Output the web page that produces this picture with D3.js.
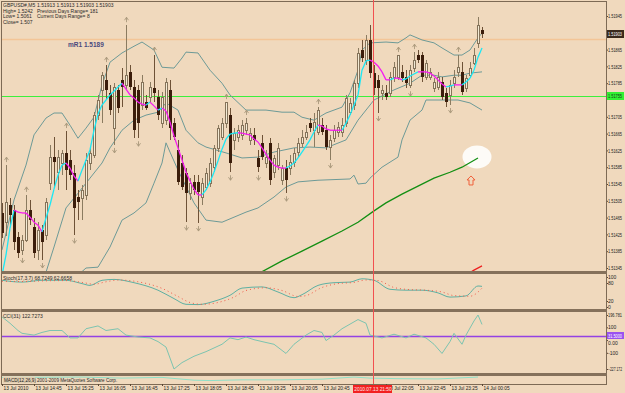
<!DOCTYPE html>
<html>
<head>
<meta charset="utf-8">
<script src="https://cdn.jsdelivr.net/npm/d3@7"></script>
<style>
  body { margin: 0; background: #f0d9bd; }
  svg { display: block; }
  text { font-family: "Liberation Sans", Arial, sans-serif; }
</style>
</head>
<body>
<div id="chart"></div>
<script>
// ---- price bars, GBPUSD M5, 13 Jul 2010 14:05 -> 14 Jul 00:05 ----
const opens = [1.51476,1.51454,1.51495,1.51483,1.51419,1.51388,1.51412,1.51483,1.51443,1.51388,
  1.51435,1.51423,1.51547,1.51609,1.51573,1.51595,1.51619,1.51602,1.51571,1.51514,
  1.51512,1.51519,1.51595,1.51614,1.51709,1.51769,1.51793,1.51762,1.51678,1.51769,
  1.51793,1.51781,1.51812,1.51776,1.51769,1.51733,1.51740,1.51752,1.51773,1.51752,
  1.51690,1.51697,1.51769,1.51690,1.51626,1.51595,1.51571,1.51523,1.51550,1.51550,
  1.51514,1.51538,1.51547,1.51585,1.51631,1.51657,1.51690,1.51709,1.51650,1.51657,
  1.51662,1.51673,1.51650,1.51662,1.51607,1.51643,1.51595,1.51643,1.51573,1.51590,
  1.51554,1.51583,1.51583,1.51597,1.51621,1.51643,1.51657,1.51690,1.51673,1.51669,
  1.51685,1.51673,1.51633,1.51654,1.51669,1.51669,1.51690,1.51716,1.51733,1.51785,
  1.51864,1.51840,1.51888,1.51809,1.51793,1.51762,1.51762,1.51762,1.51800,1.51800,
  1.51812,1.51800,1.51781,1.51821,1.51852,1.51852,1.51800,1.51800,1.51773,1.51776,
  1.51788,1.51762,1.51757,1.51785,1.51812,1.51812,1.51773,1.51804,1.51833,1.51881,
  1.51912];
const highs = [1.51500,1.51590,1.51512,1.51495,1.51431,1.51423,1.51519,1.51507,1.51464,1.51454,
  1.51447,1.51512,1.51638,1.51657,1.51626,1.51626,1.51671,1.51626,1.51590,1.51531,
  1.51543,1.51619,1.51631,1.51716,1.51757,1.51812,1.51828,1.51781,1.51785,1.51781,
  1.51821,1.51923,1.51828,1.51793,1.51781,1.51804,1.51757,1.51788,1.51852,1.51769,
  1.51764,1.51797,1.51793,1.51702,1.51650,1.51614,1.51583,1.51559,1.51566,1.51566,
  1.51559,1.51583,1.51607,1.51638,1.51685,1.51702,1.51740,1.51726,1.51678,1.51685,
  1.51697,1.51702,1.51678,1.51678,1.51626,1.51662,1.51626,1.51654,1.51614,1.51643,
  1.51590,1.51602,1.51614,1.51631,1.51654,1.51673,1.51685,1.51702,1.51714,1.51728,
  1.51702,1.51685,1.51662,1.51685,1.51693,1.51702,1.51757,1.51750,1.51793,1.51869,
  1.51888,1.51900,1.51923,1.51828,1.51804,1.51781,1.51781,1.51812,1.51835,1.51852,
  1.51828,1.51816,1.51828,1.51859,1.51864,1.51859,1.51840,1.51821,1.51797,1.51812,
  1.51800,1.51773,1.51793,1.51816,1.51852,1.51835,1.51804,1.51835,1.51869,1.51943,
  1.51919];
const lows = [1.51416,1.51421,1.51447,1.51388,1.51369,1.51376,1.51407,1.51447,1.51369,1.51364,
  1.51364,1.51412,1.51531,1.51538,1.51531,1.51566,1.51531,1.51554,1.51423,1.51459,
  1.51459,1.51507,1.51578,1.51607,1.51697,1.51690,1.51745,1.51709,1.51638,1.51714,
  1.51728,1.51769,1.51769,1.51654,1.51654,1.51721,1.51721,1.51740,1.51740,1.51697,
  1.51678,1.51685,1.51650,1.51650,1.51543,1.51531,1.51454,1.51507,1.51519,1.51452,
  1.51495,1.51531,1.51538,1.51573,1.51621,1.51650,1.51678,1.51573,1.51626,1.51645,
  1.51650,1.51662,1.51638,1.51638,1.51573,1.51602,1.51583,1.51543,1.51559,1.51578,
  1.51543,1.51523,1.51566,1.51585,1.51609,1.51633,1.51650,1.51669,1.51633,1.51662,
  1.51662,1.51626,1.51602,1.51645,1.51657,1.51657,1.51681,1.51709,1.51721,1.51773,
  1.51835,1.51828,1.51797,1.51757,1.51714,1.51745,1.51745,1.51752,1.51788,1.51793,
  1.51788,1.51773,1.51773,1.51812,1.51833,1.51788,1.51793,1.51793,1.51764,1.51769,
  1.51745,1.51728,1.51733,1.51773,1.51800,1.51757,1.51764,1.51797,1.51828,1.51869,
  1.51893];
const closes = [1.51428,1.51502,1.51471,1.51407,1.51381,1.51412,1.51483,1.51459,1.51381,1.51435,
  1.51407,1.51502,1.51609,1.51597,1.51609,1.51619,1.51578,1.51566,1.51488,1.51502,
  1.51531,1.51602,1.51619,1.51709,1.51745,1.51804,1.51769,1.51721,1.51776,1.51726,
  1.51776,1.51804,1.51776,1.51673,1.51690,1.51788,1.51726,1.51776,1.51762,1.51709,
  1.51752,1.51788,1.51678,1.51657,1.51550,1.51538,1.51523,1.51547,1.51531,1.51526,
  1.51547,1.51571,1.51595,1.51631,1.51678,1.51690,1.51740,1.51595,1.51666,1.51673,
  1.51685,1.51690,1.51666,1.51650,1.51585,1.51609,1.51609,1.51554,1.51607,1.51631,
  1.51583,1.51554,1.51597,1.51619,1.51643,1.51657,1.51669,1.51678,1.51693,1.51721,
  1.51669,1.51633,1.51650,1.51673,1.51681,1.51685,1.51750,1.51738,1.51785,1.51857,
  1.51845,1.51888,1.51809,1.51773,1.51773,1.51769,1.51752,1.51800,1.51823,1.51852,
  1.51797,1.51785,1.51816,1.51840,1.51840,1.51800,1.51833,1.51812,1.51788,1.51800,
  1.51752,1.51740,1.51781,1.51800,1.51823,1.51764,1.51797,1.51821,1.51852,1.51923,
  1.51903];

// fast moving average, one value per bar (coloured by slope)
const maValues = [1.51328,1.51376,1.51440,1.51483,1.51478,1.51476,1.51476,1.51466,1.51454,1.51447,
  1.51431,1.51464,1.51495,1.51533,1.51566,1.51590,1.51595,1.51583,1.51564,1.51552,
  1.51578,1.51602,1.51626,1.51673,1.51712,1.51733,1.51745,1.51757,1.51766,1.51776,
  1.51785,1.51771,1.51757,1.51750,1.51740,1.51735,1.51733,1.51740,1.51731,1.51721,
  1.51726,1.51719,1.51693,1.51659,1.51631,1.51602,1.51573,1.51552,1.51533,1.51519,
  1.51519,1.51531,1.51550,1.51573,1.51600,1.51628,1.51652,1.51664,1.51666,1.51667,
  1.51666,1.51664,1.51662,1.51652,1.51645,1.51631,1.51616,1.51602,1.51590,1.51585,
  1.51583,1.51583,1.51588,1.51595,1.51607,1.51621,1.51635,1.51650,1.51669,1.51685,
  1.51683,1.51676,1.51673,1.51673,1.51673,1.51673,1.51690,1.51709,1.51733,1.51757,
  1.51816,1.51838,1.51840,1.51835,1.51826,1.51812,1.51793,1.51793,1.51797,1.51797,
  1.51793,1.51795,1.51802,1.51807,1.51812,1.51812,1.51812,1.51809,1.51802,1.51793,
  1.51783,1.51776,1.51778,1.51781,1.51781,1.51781,1.51788,1.51797,1.51816,1.51847,
  1.51869];

// bollinger bands, [bar, price]
const bbUpper = [[0,1.51388],[3,1.51507],[6,1.51590],[8,1.51662],[11,1.51702],[13,1.51714],[15,1.51714],
  [17,1.51685],[19,1.51654],[21,1.51678],[23,1.51704],[25,1.51781],[27,1.51835],[30,1.51857],[33,1.51873],
  [35,1.51883],[38,1.51864],[40,1.51823],[43,1.51821],[45,1.51845],[46,1.51859],[49,1.51857],[52,1.51816],
  [55,1.51785],[57,1.51757],[61,1.51721],[66,1.51721],[70,1.51716],[73,1.51716],[75,1.51704],[78,1.51697],
  [81,1.51714],[85,1.51728],[87,1.51762],[89,1.51816],[90,1.51864],[92,1.51881],[96,1.51883],[99,1.51881],
  [101,1.51893],[102,1.51900],[105,1.51888],[108,1.51881],[110,1.51869],[113,1.51852],[115,1.51852],
  [117,1.51864],[119,1.51893],[120,1.51904]];
const bbMiddle = [[9,1.51312],[11,1.51335],[13,1.51395],[16,1.51488],[19,1.51523],[22,1.51559],[25,1.51595],
  [27,1.51631],[30,1.51673],[33,1.51697],[36,1.51709],[39,1.51716],[41,1.51738],[44,1.51721],[46,1.51673],
  [49,1.51643],[51,1.51633],[56,1.51619],[60,1.51607],[64,1.51609],[68,1.51621],[73,1.51631],[77,1.51633],
  [81,1.51631],[86,1.51650],[89,1.51697],[93,1.51745],[98,1.51769],[102,1.51785],[105,1.51804],[108,1.51804],
  [110,1.51800],[113,1.51804],[115,1.51804],[117,1.51809],[120,1.51812]];
const bbLower = [[19,1.51328],[21,1.51345],[24,1.51347],[27,1.51395],[30,1.51459],[33,1.51476],[36,1.51500],
  [38,1.51547],[40,1.51595],[41,1.51643],[42,1.51621],[44,1.51578],[48,1.51500],[51,1.51459],[55,1.51454],
  [58,1.51466],[61,1.51478],[64,1.51488],[68,1.51514],[71,1.51538],[74,1.51550],[79,1.51554],[87,1.51557],
  [88,1.51566],[89,1.51545],[91,1.51547],[92,1.51559],[95,1.51585],[99,1.51609],[100,1.51650],[102,1.51697],
  [105,1.51721],[106,1.51745],[110,1.51745],[114,1.51745],[117,1.51738],[120,1.51721]];

// slow moving averages entering from below
const slowMa = [[64,1.51331],[70,1.51362],[75,1.51385],[80,1.51409],[85,1.51433],[89,1.51454],[93,1.51481],
  [96,1.51500],[100,1.51521],[104,1.51540],[108,1.51559],[112,1.51573],[115,1.51585],[119,1.51607]];
const redMa = [[116,1.51328],[118,1.51340],[120,1.51350]];

// fractal bars
const fractalUp = [1, 6, 16, 26, 31, 38, 56, 61, 79, 99, 103, 114];
const fractalDown = [5, 10, 18, 28, 34, 46, 49, 57, 64, 71, 82, 94, 102, 112];

// levels
const pivotR1 = 1.5189;
const greenLevel = 1.51755;
const lastPrice = 1.51903;
const priceTicks = [1.51945, 1.51865, 1.51825, 1.51785, 1.51705, 1.51665, 1.51625, 1.51585,
  1.51545, 1.51505, 1.51465, 1.51425, 1.51385, 1.51345];

// stochastic (17,3,7), [bar, value]
const stochMain = [[0,89],[5,83],[10,89],[16,89],[20,78],[22,72],[25,89],[28,92],[33,81],[39,56],[43,28],
  [46,9],[49,8],[53,19],[57,39],[60,63],[65,67],[69,50],[73,31],[75,41],[79,72],[83,81],[87,83],[90,94],
  [93,89],[97,59],[101,56],[105,56],[109,47],[112,33],[116,37],[119,70],[120,68.7249]];
const stochSignal = [[0,86],[5,85],[10,87],[16,88],[20,82],[23,76],[26,84],[29,90],[34,84],[40,62],[44,35],
  [47,15],[50,9],[54,15],[58,33],[61,55],[66,64],[70,55],[74,35],[76,38],[80,65],[84,78],[88,82],[91,90],
  [94,88],[98,65],[102,58],[106,56],[110,50],[113,38],[117,36],[120,62.6658]];
const stochTicks = [100, 80, 20, 0];

// CCI(31), [bar, value]
const cciValues = [[0,182],[2,132],[4,75],[5,53],[8,39],[10,60],[12,75],[15,75],[17,17],[19,17],[21,89],
  [24,111],[26,75],[29,89],[31,39],[34,24],[37,17],[39,-12],[41,-55],[43,-227.17],[45,-177],[48,-127],
  [51,-91],[55,-33],[57,17],[59,3],[61,24],[63,3],[66,-19],[68,-33],[71,-105],[73,-33],[76,39],[78,75],
  [80,60],[81,-4],[83,39],[85,89],[87,125],[89,161],[91,132],[92,39],[95,17],[98,46],[101,17],[103,46],
  [106,17],[108,-33],[110,-105],[112,-12],[113,53],[115,-33],[116,39],[118,150],[119,196.78],[120,122.7273]];
const cciRange = [-227.172, 196.781];
const cciLevel = 31.5;
const cciTicks = [100, 0, -100];

// bottom sub-window line
const lowPanel = [[0,80],[20,85],[30,70],[40,80],[48,40],[52,35],[60,45],[70,45],[80,55],[88,85],
  [92,70],[99,62],[109,58],[119,85]];

// time axis (the 21:25 tick sits under the cursor label)
const timeTicks = [0, 8, 16, 24, 32, 40, 48, 56, 64, 72, 80, 96, 104, 112, 120];
const timeLabels = ["13 Jul 2010", "13 Jul 14:45", "13 Jul 15:25", "13 Jul 16:05", "13 Jul 16:45",
  "13 Jul 17:25", "13 Jul 18:05", "13 Jul 18:45", "13 Jul 19:25", "13 Jul 20:05", "13 Jul 20:45",
  "13 Jul 22:05", "13 Jul 22:45", "13 Jul 23:25", "14 Jul 00:05"];
const cursorBar = 92.75;
const cursorLabel = "2010.07.13 21:50";

const infoLines = [
  ["GBPUSD#,M5", "1.51913 1.51913 1.51903 1.51903"],
  ["High= 1.5242", "Previous Days Range= 181"],
  ["Low= 1.5061", "Current Days Range= 8"],
  ["Close= 1.507", ""]
];

class MtChart {
    constructor(_parentElement) {
        this.parentElement = _parentElement;
        this.initVis();
    }

    initVis() {
        let vis = this;
        vis.width = 625;
        vis.height = 393;
        vis.left = 2;
        vis.right = 606;
        vis.main = {top: 2, bottom: 271};
        vis.stoch = {top: 274, bottom: 309};
        vis.cci = {top: 312, bottom: 373};
        vis.low = {top: 376, bottom: 384};

        vis.svg = d3.select("#" + vis.parentElement).append("svg")
            .attr("width", vis.width)
            .attr("height", vis.height);

        vis.svg.append("rect")
            .attr("width", vis.width).attr("height", vis.height)
            .attr("fill", "#f0d9bd");

        // clip each sub-window
        let defs = vis.svg.append("defs");
        [["clipMain", vis.main], ["clipStoch", vis.stoch], ["clipCci", vis.cci], ["clipLow", vis.low]]
            .forEach(([id, p]) => {
                defs.append("clipPath").attr("id", id).append("rect")
                    .attr("x", vis.left).attr("y", p.top)
                    .attr("width", vis.right - vis.left).attr("height", p.bottom - p.top);
            });

        vis.x = d3.scaleLinear().domain([0, 120]).range([2, 482]);
        vis.y = d3.scaleLinear().domain([1.51345, 1.51945]).range([268, 16]);
        vis.yStoch = d3.scaleLinear().domain([0, 100]).range([307, 277]);
        vis.yCci = d3.scaleLinear().domain(cciRange).range([369, 315]);
        vis.yLow = d3.scaleLinear().domain([0, 100]).range([383, 376]);

        vis.drawMain();
        vis.drawStoch();
        vis.drawCci();
        vis.drawLow();
        vis.drawFrames();
        vis.drawTime();
    }

    // right-hand scale labels are squeezed into the narrow strip
    styleAxis(ag) {
        ag.select(".domain").remove();
        ag.selectAll("text")
            .attr("font-size", 5).attr("fill", "#222")
            .attr("font-family", "Liberation Sans")
            .each(function() {
                let t = d3.select(this);
                let n = t.text().length;
                if (n > 4) t.attr("textLength", Math.min(14, 2 * n)).attr("lengthAdjust", "spacingAndGlyphs");
            });
        ag.selectAll("line").attr("stroke", "#5a4632");
    }

    drawMain() {
        let vis = this;
        let g = vis.svg.append("g").attr("clip-path", "url(#clipMain)");
        let x = vis.x, y = vis.y;

        // pivot line and green level
        g.append("line")
            .attr("x1", vis.left).attr("x2", vis.right)
            .attr("y1", Math.round(y(pivotR1)) + 0.5).attr("y2", Math.round(y(pivotR1)) + 0.5)
            .attr("stroke", "#f3c597").attr("stroke-width", 1.5);
        g.append("line")
            .attr("x1", vis.left).attr("x2", vis.right)
            .attr("y1", Math.round(y(greenLevel)) + 0.5).attr("y2", Math.round(y(greenLevel)) + 0.5)
            .attr("stroke", "#3cf03c").attr("stroke-width", 1);

        g.append("text")
            .attr("x", 68).attr("y", y(pivotR1) + 8)
            .attr("font-size", 6.5).attr("font-weight", "bold")
            .attr("fill", "#4b4a7e")
            .text("mR1   " + pivotR1.toFixed(4));

        // white spot and arrow near the slow MA
        let last = slowMa[slowMa.length - 1];
        g.append("ellipse")
            .attr("cx", x(last[0]) - 1).attr("cy", y(last[1]) - 1)
            .attr("rx", 14.5).attr("ry", 11.5)
            .attr("fill", "#fdfbf7");
        let ax = x(last[0]) - 7, ay = y(last[1]) + 18;
        g.append("path")
            .attr("d", `M${ax},${ay} l4,4 h-2 v5 h-4 v-5 h-2 z`)
            .attr("fill", "none").attr("stroke", "#f0603a").attr("stroke-width", 1);

        let line = d3.line().x(d => x(d[0])).y(d => y(d[1]));

        [bbUpper, bbMiddle, bbLower].forEach(band => {
            g.append("path").datum(band)
                .attr("d", line)
                .attr("fill", "none")
                .attr("stroke", "#6d9a97")
                .attr("stroke-width", 1);
        });

        g.append("path").datum(slowMa)
            .attr("d", line).attr("fill", "none")
            .attr("stroke", "#138f13").attr("stroke-width", 1.3);
        g.append("path").datum(redMa)
            .attr("d", line).attr("fill", "none")
            .attr("stroke", "#ee2020").attr("stroke-width", 1.3);

        // candles
        let bars = d3.range(opens.length).map(i => ({
            i: i, o: opens[i], h: highs[i], l: lows[i], c: closes[i]
        }));
        let cg = g.append("g").attr("shape-rendering", "crispEdges");
        cg.selectAll(".wick").data(bars).enter().append("line")
            .attr("class", "wick")
            .attr("x1", d => x(d.i) + 0.5).attr("x2", d => x(d.i) + 0.5)
            .attr("y1", d => Math.round(y(d.h))).attr("y2", d => Math.round(y(d.l)))
            .attr("stroke", d => d.c < d.o ? "#6e5237" : "#8b7b60");
        cg.selectAll(".body").data(bars).enter().append("rect")
            .attr("class", "body")
            .attr("x", d => d.c < d.o ? x(d.i) - 1 : x(d.i) - 0.5)
            .attr("width", d => d.c < d.o ? 3 : 2)
            .attr("y", d => Math.round(y(Math.max(d.o, d.c))) + (d.c < d.o ? 0 : 0.5))
            .attr("height", d => Math.max(1, Math.round(y(Math.min(d.o, d.c))) - Math.round(y(Math.max(d.o, d.c)))))
            .attr("fill", d => d.c < d.o ? "#3b1d0b" : "#f3ead4")
            .attr("stroke", d => d.c < d.o ? "none" : "#85735a")
            .attr("stroke-width", 1);

        // moving average coloured by slope
        let segs = d3.range(maValues.length - 1).map(i => ({
            i: i, a: maValues[i], b: maValues[i + 1]
        }));
        g.selectAll(".ma").data(segs).enter().append("line")
            .attr("class", "ma")
            .attr("x1", d => x(d.i)).attr("x2", d => x(d.i + 1))
            .attr("y1", d => y(d.a)).attr("y2", d => y(d.b))
            .attr("stroke", d => d.b > d.a ? "#19e8f5" : "#f51cf0")
            .attr("stroke-width", 1.3);

        // fractals
        let arrow = "M-2,1 L0,-2 L2,1 M0,-2 V3";
        g.selectAll(".fup").data(fractalUp).enter().append("path")
            .attr("class", "fup")
            .attr("transform", i => `translate(${x(i) + 0.5},${y(highs[i]) - 6})`)
            .attr("d", arrow)
            .attr("fill", "none").attr("stroke", "#a9987c").attr("stroke-width", 0.9);
        g.selectAll(".fdn").data(fractalDown).enter().append("path")
            .attr("class", "fdn")
            .attr("transform", i => `translate(${x(i) + 0.5},${y(lows[i]) + 6}) scale(1,-1)`)
            .attr("d", arrow)
            .attr("fill", "none").attr("stroke", "#a9987c").attr("stroke-width", 0.9);

        // info text
        let info = vis.svg.append("g").attr("font-size", 5).attr("fill", "#2a2a2a");
        infoLines.forEach((row, k) => {
            info.append("text").attr("x", 3).attr("y", 7 + k * 5.7).text(row[0]);
            info.append("text").attr("x", 37).attr("y", 7 + k * 5.7).text(row[1]);
        });

        // price axis
        let axis = d3.axisRight(y)
            .tickValues(priceTicks)
            .tickSize(2)
            .tickPadding(0)
            .tickFormat(d3.format(".5f"));
        let ag = vis.svg.append("g")
            .attr("transform", `translate(${vis.right},0)`)
            .call(axis);
        vis.styleAxis(ag);

        vis.priceBox(lastPrice, "#3a2a1c", "#ffffff");
        vis.priceBox(greenLevel, "#32f032", "#1a3a1a");
    }

    priceBox(value, fill, color) {
        let vis = this;
        let yy = Math.round(vis.y(value));
        vis.svg.append("rect")
            .attr("x", vis.right + 1).attr("y", yy - 4)
            .attr("width", 17).attr("height", 8)
            .attr("fill", fill);
        vis.svg.append("text")
            .attr("x", vis.right + 2).attr("y", yy + 2)
            .attr("font-size", 5).attr("fill", color)
            .attr("textLength", 14).attr("lengthAdjust", "spacingAndGlyphs")
            .text(value.toFixed(5));
    }

    drawStoch() {
        let vis = this;
        let g = vis.svg.append("g").attr("clip-path", "url(#clipStoch)");
        let line = d3.line().curve(d3.curveMonotoneX).x(d => vis.x(d[0])).y(d => vis.yStoch(d[1]));
        g.append("path").datum(stochMain)
            .attr("d", line).attr("fill", "none")
            .attr("stroke", "#5fb0a2").attr("stroke-width", 1);
        g.append("path").datum(stochSignal)
            .attr("d", line).attr("fill", "none")
            .attr("stroke", "#f25a4a").attr("stroke-width", 1)
            .attr("stroke-dasharray", "1,3");

        vis.svg.append("text")
            .attr("x", 3).attr("y", vis.stoch.top + 6)
            .attr("font-size", 5).attr("fill", "#2a2a2a")
            .text("Stoch(17,3,7) " + stochMain[stochMain.length - 1][1].toFixed(4) + " " +
                stochSignal[stochSignal.length - 1][1].toFixed(4));

        let axis = d3.axisRight(vis.yStoch).tickValues(stochTicks).tickSize(2).tickPadding(0);
        let ag = vis.svg.append("g").attr("transform", `translate(${vis.right},0)`).call(axis);
        vis.styleAxis(ag);
    }

    drawCci() {
        let vis = this;
        let g = vis.svg.append("g").attr("clip-path", "url(#clipCci)");
        let yl = Math.round(vis.yCci(cciLevel)) + 0.5;
        g.append("line")
            .attr("x1", vis.left).attr("x2", vis.right)
            .attr("y1", yl).attr("y2", yl)
            .attr("stroke", "#9442e4").attr("stroke-width", 1.5);
        let line = d3.line().x(d => vis.x(d[0])).y(d => vis.yCci(d[1]));
        g.append("path").datum(cciValues)
            .attr("d", line).attr("fill", "none")
            .attr("stroke", "#7cc4b0").attr("stroke-width", 1);

        vis.svg.append("text")
            .attr("x", 3).attr("y", vis.cci.top + 6)
            .attr("font-size", 5).attr("fill", "#2a2a2a")
            .text("CCI(31) " + cciValues[cciValues.length - 1][1].toFixed(4));

        let axis = d3.axisRight(vis.yCci)
            .tickValues([cciRange[1]].concat(cciTicks, [cciRange[0]]))
            .tickSize(2).tickPadding(0)
            .tickFormat(d => Number.isInteger(d) ? (d === 0 ? "0.00" : d) : d3.format(".3f")(d));
        let ag = vis.svg.append("g").attr("transform", `translate(${vis.right},0)`).call(axis);
        vis.styleAxis(ag);
        ag.selectAll(".tick text").filter(d => d === 0).attr("dy", "0.9em");

        let yb = Math.round(vis.yCci(cciLevel));
        vis.svg.append("rect")
            .attr("x", vis.right + 1).attr("y", yb - 4)
            .attr("width", 17).attr("height", 7).attr("fill", "#9b52f0");
        vis.svg.append("text")
            .attr("x", vis.right + 2).attr("y", yb + 2)
            .attr("font-size", 5).attr("fill", "#fff")
            .attr("textLength", 14).attr("lengthAdjust", "spacingAndGlyphs")
            .text(cciLevel.toFixed(4));
    }

    drawLow() {
        let vis = this;
        let g = vis.svg.append("g").attr("clip-path", "url(#clipLow)");
        let line = d3.line().x(d => vis.x(d[0])).y(d => vis.yLow(d[1]));
        g.append("path").datum(lowPanel)
            .attr("d", line).attr("fill", "none")
            .attr("stroke", "#8ee0c8").attr("stroke-width", 1);
        vis.svg.append("rect")
            .attr("x", 3).attr("y", 377).attr("width", 32).attr("height", 6)
            .attr("fill", "#e2cfb3");
        vis.svg.append("text")
            .attr("x", 4).attr("y", 382).attr("font-size", 4.6).attr("fill", "#1a1a1a")
            .text("MACD(12,26,9)");
        vis.svg.append("text")
            .attr("x", 37).attr("y", 382).attr("font-size", 4.6).attr("fill", "#2a2a2a")
            .text("2001-2009 MetaQuotes Software Corp.");
    }

    drawFrames() {
        let vis = this;
        let f = vis.svg.append("g").attr("shape-rendering", "crispEdges");
        [vis.main, vis.stoch, vis.cci, vis.low].forEach(p => {
            f.append("rect")
                .attr("x", vis.left - 0.5).attr("y", p.top - 0.5)
                .attr("width", vis.right - vis.left + 1).attr("height", p.bottom - p.top + 1)
                .attr("fill", "none").attr("stroke", "#7d6a55").attr("stroke-width", 1);
        });
        [vis.main.bottom, vis.stoch.bottom, vis.cci.bottom].forEach(b => {
            f.append("rect")
                .attr("x", vis.left - 1).attr("y", b)
                .attr("width", vis.right - vis.left + 2).attr("height", 2.5)
                .attr("fill", "#85715b");
        });

        // cursor line through all windows
        let cx = Math.round(vis.x(cursorBar)) + 0.5;
        vis.svg.append("line")
            .attr("x1", cx).attr("x2", cx)
            .attr("y1", 0).attr("y2", vis.low.bottom)
            .attr("stroke", "#f25050").attr("stroke-width", 1);
    }

    drawTime() {
        let vis = this;
        let axis = d3.axisBottom(vis.x)
            .tickValues(timeTicks)
            .tickSize(2).tickPadding(1)
            .tickFormat((d, k) => timeLabels[k]);
        let ag = vis.svg.append("g")
            .attr("transform", `translate(0,${vis.low.bottom})`)
            .call(axis);
        ag.select(".domain").remove();
        ag.selectAll("text")
            .attr("font-size", 4.8).attr("fill", "#222")
            .attr("font-family", "Liberation Sans")
            .attr("text-anchor", "start").attr("dx", 1);
        ag.selectAll("line").attr("stroke", "#5a4632");

        let cx = Math.round(vis.x(cursorBar));
        vis.svg.append("rect")
            .attr("x", cx - 20).attr("y", vis.low.bottom + 1)
            .attr("width", 39).attr("height", 8)
            .attr("fill", "#f22020");
        vis.svg.append("text")
            .attr("x", cx).attr("y", vis.low.bottom + 7)
            .attr("text-anchor", "middle")
            .attr("font-size", 4.8).attr("fill", "#ffe8e8")
            .text(cursorLabel);
    }
}

new MtChart("chart");
</script>
</body>
</html>
